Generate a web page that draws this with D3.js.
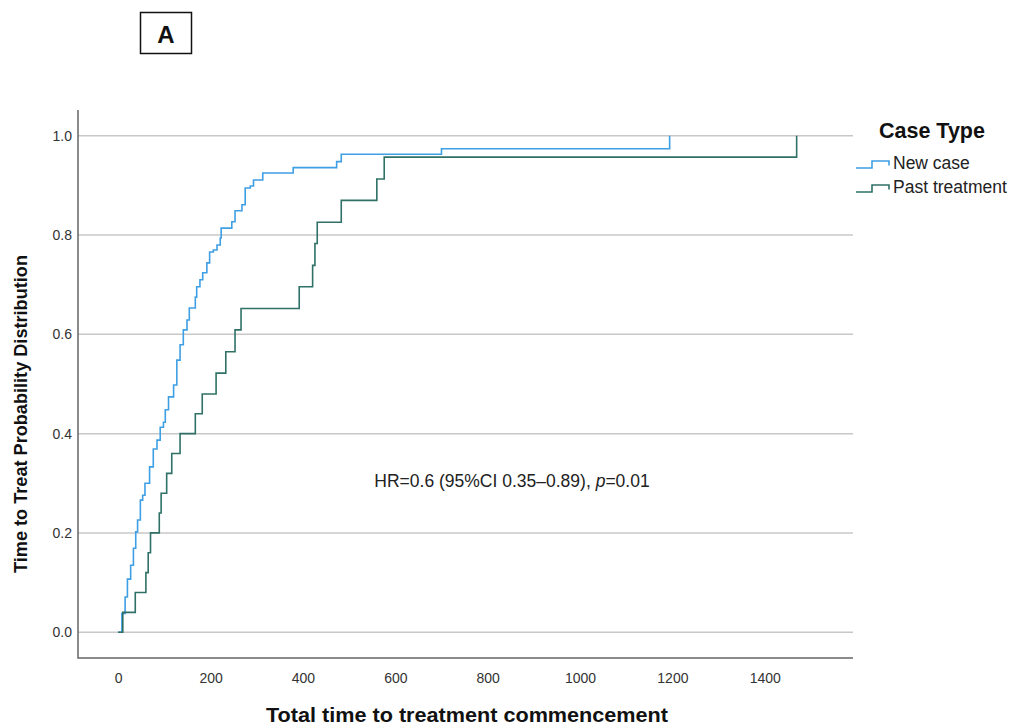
<!DOCTYPE html>
<html>
<head>
<meta charset="utf-8">
<script src="https://cdn.jsdelivr.net/npm/d3@7"></script>
<style>
    body { margin: 0; background: #fff; }
    svg { display: block; }
    .tick-label { font-family: "Liberation Sans Narrow", "Arial Narrow", "Liberation Sans", sans-serif; font-size: 14px; fill: #333; }
</style>
</head>
<body>
<div id="chart"></div>
<script>

// time (days) at which the cumulative probability steps up, and the value after the step
var newCaseDays = [0, 8, 15, 20, 27, 33, 38, 42, 48, 53, 58, 68, 76, 84, 91, 98, 102, 109, 120, 127,
    134, 141, 149, 154, 167, 170, 177, 183, 192, 198, 206, 214, 221, 223, 246, 253, 268, 275, 286, 293,
    313, 379, 473, 483, 700, 1194];
var newCaseProb = [0, 0.038, 0.071, 0.107, 0.135, 0.169, 0.202, 0.226, 0.266, 0.276, 0.300, 0.333, 0.369, 0.387, 0.413, 0.423, 0.448, 0.474, 0.498, 0.548,
    0.579, 0.609, 0.629, 0.653, 0.675, 0.696, 0.710, 0.724, 0.744, 0.766, 0.770, 0.780, 0.794, 0.814, 0.827, 0.849, 0.861, 0.895, 0.899, 0.911,
    0.925, 0.936, 0.948, 0.963, 0.974, 1.0];

var pastDays = [0, 10, 37, 60, 65, 70, 89, 93, 105, 116, 134, 167, 182, 212, 233, 253, 266,
    392, 421, 426, 431, 483, 560, 576, 1469];
var pastProb = [0, 0.040, 0.080, 0.120, 0.160, 0.200, 0.240, 0.280, 0.320, 0.360, 0.400, 0.440, 0.480, 0.522, 0.565, 0.609, 0.652,
    0.696, 0.739, 0.783, 0.826, 0.870, 0.913, 0.957, 1.0];

var seriesNames = ["New case", "Past treatment"];
var seriesColors = ["#3f9fe4", "#2f7167"];
var xTicks = [0, 200, 400, 600, 800, 1000, 1200, 1400];
var yTicks = [0, 0.2, 0.4, 0.6, 0.8, 1.0];

var drawChart = {
    init: function() {

        var width = 1011,
            height = 726,
            left = 78, right = 853, top = 110, bottom = 658;

        var svg = d3.select("#chart").append("svg")
            .attr("width", width)
            .attr("height", height)

        var x = d3.scaleLinear()
            .domain([-87, 1591])
            .range([left, right]);

        var y = d3.scaleLinear()
            .domain([-0.052, 1.052])
            .range([bottom, top]);

        // panel label
        svg.append("rect")
            .attr("x", 140.5).attr("y", 12.5)
            .attr("width", 51).attr("height", 41)
            .attr("fill", "none")
            .attr("stroke", "#111")
            .attr("stroke-width", 1.5)
        svg.append("text")
            .attr("x", 166).attr("y", 43)
            .attr("text-anchor", "middle")
            .style("font-family", "Liberation Sans, Arial, sans-serif")
            .style("font-weight", "bold")
            .style("font-size", "24px")
            .attr("fill", "#111")
            .text("A")

        // gridlines
        svg.append("g")
            .attr("class", "grid")
            .selectAll("line")
            .data(yTicks)
            .enter()
            .append("line")
            .attr("x1", left).attr("x2", right)
            .attr("y1", function(d) { return y(d); })
            .attr("y2", function(d) { return y(d); })
            .attr("stroke", "#c8c8c8")
            .attr("stroke-width", 1.5)

        // axes
        var xAxis = svg.append("g")
            .attr("transform", "translate(0," + bottom + ")")
            .call(d3.axisBottom(x).tickValues(xTicks).tickSize(0).tickPadding(15).tickFormat(d3.format("d")))
        xAxis.select(".domain").remove()
        xAxis.selectAll("text").attr("class", "tick-label").attr("fill", null)

        var yAxis = svg.append("g")
            .attr("transform", "translate(" + left + ",0)")
            .call(d3.axisLeft(y).tickValues(yTicks).tickSize(0).tickPadding(6).tickFormat(d3.format(".1f")))
        yAxis.select(".domain").remove()
        yAxis.selectAll("text").attr("class", "tick-label").attr("fill", null)

        svg.append("path")
            .attr("d", "M" + left + "," + top + "V" + bottom + "H" + right)
            .attr("fill", "none")
            .attr("stroke", "#666")
            .attr("stroke-width", 1.5)

        // step curves
        var line = d3.line()
            .curve(d3.curveStepAfter)
            .x(function(d) { return x(d[0]); })
            .y(function(d) { return y(d[1]); });

        var series = [
            d3.zip(newCaseDays, newCaseProb),
            d3.zip(pastDays, pastProb)
        ];

        svg.append("g")
            .selectAll("path")
            .data(series)
            .enter()
            .append("path")
            .attr("d", line)
            .attr("fill", "none")
            .attr("stroke", function(d, i) { return seriesColors[i]; })
            .attr("stroke-width", 1.6)

        // annotation
        var hr = svg.append("text")
            .attr("x", 512).attr("y", 487)
            .attr("text-anchor", "middle")
            .style("font-family", "Liberation Sans, Arial, sans-serif")
            .style("font-size", "17.5px")
            .attr("fill", "#222")
        hr.append("tspan").text("HR=0.6 (95%CI 0.35\u20130.89), ")
        hr.append("tspan").style("font-style", "italic").text("p")
        hr.append("tspan").text("=0.01")

        // axis titles
        svg.append("text")
            .attr("x", 467).attr("y", 722)
            .attr("text-anchor", "middle")
            .attr("textLength", 402)
            .attr("lengthAdjust", "spacingAndGlyphs")
            .style("font-family", "Liberation Sans Narrow, Arial Narrow, Liberation Sans, sans-serif")
            .style("font-weight", "bold")
            .style("font-size", "20px")
            .attr("fill", "#111")
            .text("Total time to treatment commencement")

        svg.append("text")
            .attr("transform", "translate(27,414) rotate(-90)")
            .attr("text-anchor", "middle")
            .attr("textLength", 318)
            .attr("lengthAdjust", "spacingAndGlyphs")
            .style("font-family", "Liberation Sans Narrow, Arial Narrow, Liberation Sans, sans-serif")
            .style("font-weight", "bold")
            .style("font-size", "19px")
            .attr("fill", "#111")
            .text("Time to Treat Probability Distribution")

        // legend
        var legend = svg.append("g")

        legend.append("text")
            .attr("x", 879).attr("y", 138)
            .style("font-family", "Liberation Sans, Arial, sans-serif")
            .style("font-weight", "bold")
            .style("font-size", "21.5px")
            .attr("fill", "#111")
            .text("Case Type")

        var items = legend.selectAll(".item")
            .data(seriesNames)
            .enter()
            .append("g")
            .attr("class", "item")
            .attr("transform", function(d, i) { return "translate(0," + (i * 24) + ")"; })

        items.append("path")
            .attr("d", "M856,168H872V161H889V165.5")
            .attr("fill", "none")
            .attr("stroke", function(d, i) { return seriesColors[i]; })
            .attr("stroke-width", 1.6)

        items.append("text")
            .attr("x", 893).attr("y", 168.5)
            .style("font-family", "Liberation Sans, Arial, sans-serif")
            .style("font-size", "17.5px")
            .attr("fill", "#222")
            .text(function(d) { return d; })
    }
}

drawChart.init();

</script>
</body>
</html>
